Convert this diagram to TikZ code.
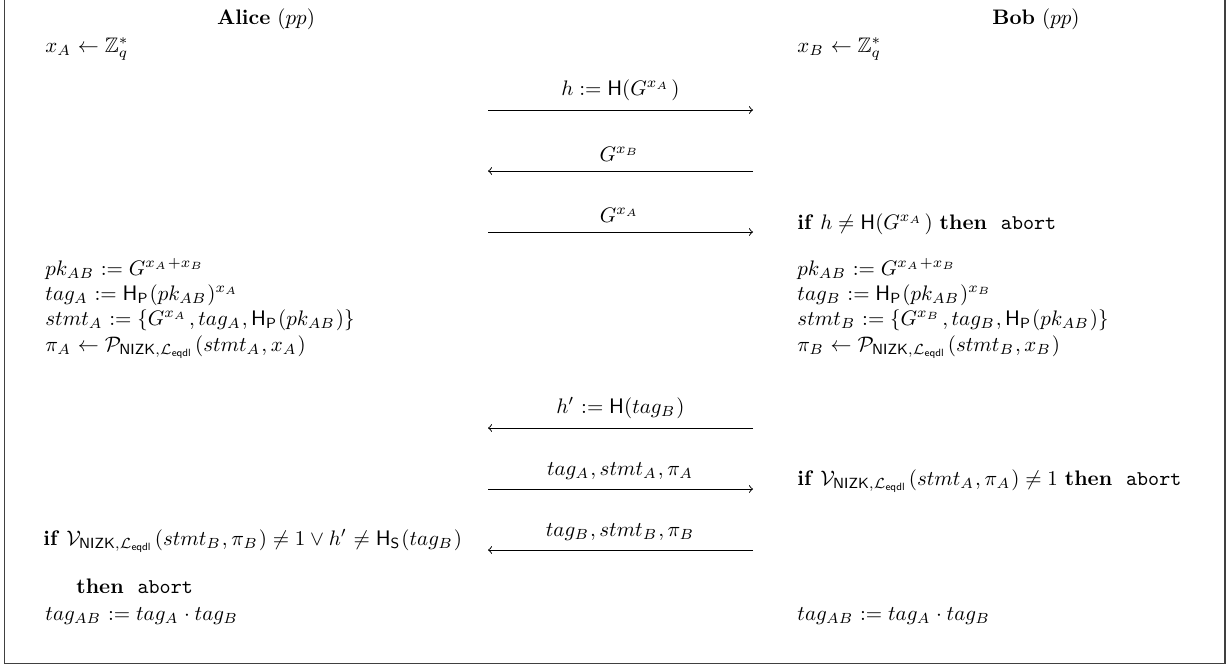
\documentclass[tikz,border=0pt]{standalone}
\usepackage{amsmath,amssymb}
\newcommand{\hsh}{\mathsf{H}}
\newcommand{\nizk}{\mathsf{NIZK}}
\newcommand{\Leqdl}{\mathcal{L}_{\mathsf{eqdl}}}
\newcommand{\kw}[1]{\textbf{#1}}
\newcommand{\abrt}{\texttt{abort}}
\scriptspace=1pt
\begin{document}
\begin{tikzpicture}[x=0.4762pt,y=-0.4762pt,
  party/.style={anchor=base, inner sep=0pt},
  stmtline/.style={anchor=base west, inner sep=0pt},
  msg/.style={->, line width=0.45pt},
  msglabel/.style={above=1pt, midway},
  frameline/.style={line width=0.6pt, draw=black!75}]
\useasboundingbox (0,0) rectangle (1231,669);
\draw[frameline] (4.5,-2) -- (4.5,663.5) -- (1225,663.5) -- (1225,-2);

% party headers
\node[party] (alice) at (266,24) {\textbf{Alice} $(pp)$};
\node[party] (bob)   at (1036,24) {\textbf{Bob} $(pp)$};

% key sampling
\node[stmtline] (xa) at (45,52) {$x_A \leftarrow \mathbb{Z}_q^*$};
\node[stmtline] (xb) at (797,52) {$x_B \leftarrow \mathbb{Z}_q^*$};

% message end points
\foreach \i/\y in {1/110,2/171,3/232,4/428,5/489,6/550}{
  \coordinate (l\i) at (488,\y);
  \coordinate (r\i) at (753,\y);
}

\draw[msg] (l1) -- node[msglabel] (m1) {$h := \hsh(G^{x_A})$} (r1);
\draw[msg] (r2) -- node[msglabel] (m2) {$G^{x_B}$} (l2);
\draw[msg] (l3) -- node[msglabel] (m3) {$G^{x_A}$} (r3);

\node[stmtline] (bcheck) at (797,229) {\kw{if} $h \neq \hsh(G^{x_A})$ \kw{then} \ \abrt};

% key and tag computation
\node[stmtline] (apk) at (45,275) {$pk_{AB} := G^{x_A+x_B}$};
\node[stmtline] (atag) at (45,300) {$tag_A := \hsh_{\mathsf{P}}(pk_{AB})^{x_A}$};
\node[stmtline] (astmt) at (45,325) {$stmt_A := \{G^{x_A}, tag_A, \hsh_{\mathsf{P}}(pk_{AB})\}$};
\node[stmtline] (api) at (45,351) {$\pi_A \leftarrow \mathcal{P}_{\nizk,\Leqdl}(stmt_A, x_A)$};

\node[stmtline] (bpk) at (797,275) {$pk_{AB} := G^{x_A+x_B}$};
\node[stmtline] (btag) at (797,300) {$tag_B := \hsh_{\mathsf{P}}(pk_{AB})^{x_B}$};
\node[stmtline] (bstmt) at (797,325) {$stmt_B := \{G^{x_B}, tag_B, \hsh_{\mathsf{P}}(pk_{AB})\}$};
\node[stmtline] (bpi) at (797,351) {$\pi_B \leftarrow \mathcal{P}_{\nizk,\Leqdl}(stmt_B, x_B)$};

\draw[msg] (r4) -- node[msglabel] (m4) {$h' := \hsh(tag_B)$} (l4);
\draw[msg] (l5) -- node[msglabel] (m5) {$tag_A, stmt_A, \pi_A$} (r5);
\draw[msg] (r6) -- node[msglabel] (m6) {$tag_B, stmt_B, \pi_B$} (l6);

\node[stmtline] (bver) at (797,485) {\kw{if} $\mathcal{V}_{\nizk,\Leqdl}(stmt_A, \pi_A) \neq 1$ \kw{then} \ \abrt};
\node[stmtline] (aver) at (43,545) {\kw{if} $\mathcal{V}_{\nizk,\Leqdl}(stmt_B, \pi_B) \neq 1 \vee h' \neq \hsh_{\mathsf{S}}(tag_B)$};
\node[stmtline] (athen) at (76,593) {\kw{then} \ \abrt};

\node[stmtline] (atagab) at (45,620) {$tag_{AB} := tag_A \cdot tag_B$};
\node[stmtline] (btagab) at (797,620) {$tag_{AB} := tag_A \cdot tag_B$};
\end{tikzpicture}
\end{document}
